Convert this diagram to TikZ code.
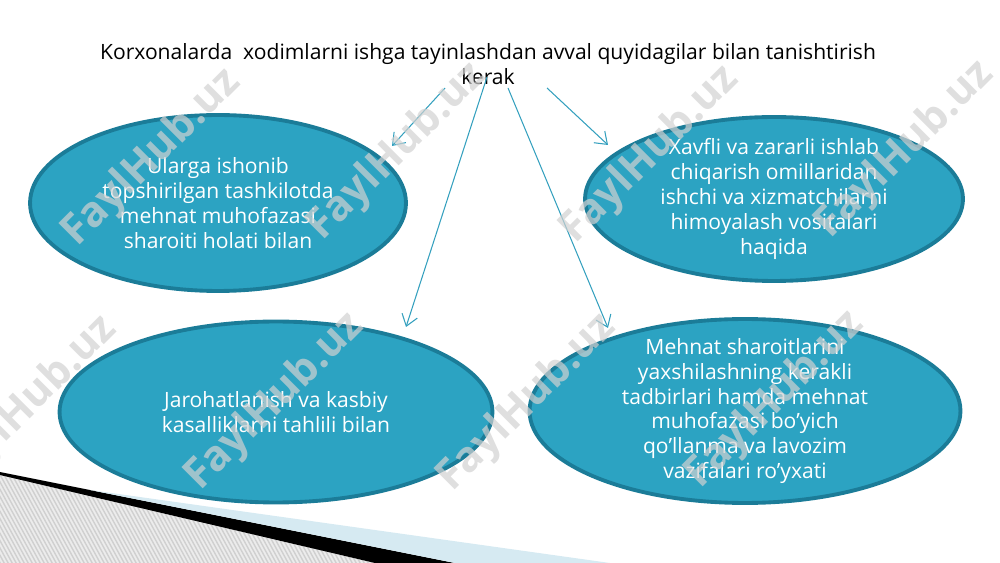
\documentclass[tikz,border=0pt]{standalone}
\usepackage{fontspec}
\setmainfont{Open Sans}
\usetikzlibrary{arrows.meta,positioning,shapes.geometric}
\definecolor{tealfill}{RGB}{44,163,194}
\definecolor{tealedge}{RGB}{27,124,152}
\definecolor{arrowteal}{RGB}{52,160,190}
\definecolor{paleblue}{RGB}{214,234,242}
\definecolor{hatchback}{RGB}{236,236,236}
\definecolor{hatchline}{RGB}{208,208,208}
\tikzset{
  >={Straight Barb[length=2.2mm,width=3.2mm]},
  topic/.style={draw=tealedge, line width=2.2pt, fill=tealfill, ellipse, inner xsep=0pt, inner ysep=-3mm, align=center, text=white, font=\fontsize{12}{14.2}\selectfont},
  link/.style={->, draw=arrowteal, line width=0.6pt},
  wmark/.style={text=black!18, opacity=0.7, font=\bfseries\fontsize{24}{24}\selectfont, rotate=45},
}

\begin{document}
\begin{tikzpicture}[x=0.02cm, y=-0.02cm]
  \useasboundingbox (0,0) rectangle (1000,563);

  % corner decoration
  \begin{scope}
    \clip (0,474) -- (375,563) -- (0,563) -- cycle;
    \fill[hatchback] (0,470) rectangle (380,563);
    \foreach \k in {-20,-16,...,440}
      \draw[hatchline, line width=0.8pt] (\k-40,460) -- (\k+20,570);
  \end{scope}
  \fill[black] (0,472) -- (455,563) -- (375,563) -- (0,475) -- cycle;
  \fill[paleblue] (90,490) -- (610,563) -- (455,563) -- cycle;

  % heading
  \node[font=\fontsize{12}{14.2}\selectfont, align=center] (heading) at (488,64)
    {Korxonalarda~ xodimlarni ishga tayinlashdan avval quyidagilar bilan tanishtirish\\kerak};

  % topics
  \node[topic, minimum width=7.52cm, minimum height=3.52cm] (safety) at (218,203)
    {Ularga ishonib\\topshirilgan tashkilotda\\mehnat muhofazasi\\sharoiti holati bilan};
  \node[topic, minimum width=7.56cm, minimum height=3.28cm] (hazards) at (774,199)
    {Xavfli va zararli ishlab\\chiqarish omillaridan\\ishchi va xizmatchilarni\\himoyalash vositalari\\haqida};
  \node[topic, minimum width=8.66cm, minimum height=3.62cm] (injuries) at (276,412)
    {Jarohatlanish va kasbiy\\kasalliklarni tahlili bilan};
  \node[topic, minimum width=8.62cm, minimum height=3.68cm] (measures) at (745,411)
    {Mehnat sharoitlarini\\yaxshilashning kerakli\\tadbirlari hamda mehnat\\muhofazasi bo’yich\\qo’llanma va lavozim\\vazifalari ro’yxati};

  % arrow ends
  \coordinate (fromSafety) at (445,88);
  \coordinate (fromInjuries) at (487,77);
  \coordinate (fromMeasures) at (508,88);
  \coordinate (fromHazards) at (547,88);
  \coordinate (toSafety) at (392,146);
  \coordinate (toInjuries) at (406,327);
  \coordinate (toMeasures) at (608,328);
  \coordinate (toHazards) at (608,145);

  % connections
  \foreach \n in {Safety,Injuries,Measures,Hazards}
    \draw[link] (from\n) -- (to\n);

  % watermark
  \foreach \x/\y [count=\i] in {152/158, 397/152, 650/155, 905/150, 28/405, 275/402, 527/403, 775/400}
    \node[wmark] (wm\i) at (\x,\y) {FaylHub.uz};
\end{tikzpicture}
\end{document}
